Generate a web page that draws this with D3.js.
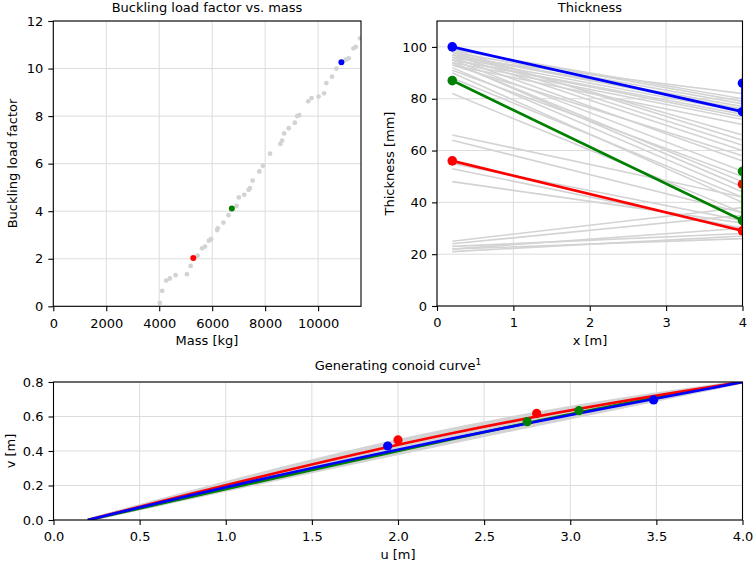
<!DOCTYPE html>
<html>
<head>
<meta charset="utf-8">
<script src="https://cdn.jsdelivr.net/npm/d3@7/dist/d3.min.js"></script>
<style>
  body { margin: 0; background: #fff; }
  svg { font-family: "DejaVu Sans", sans-serif; }
  .tick text { font-size: 13px; fill: #000; }
  .tick line { stroke: #000; stroke-width: 1.1; }
  .title, .label { font-size: 13px; fill: #000; }
</style>
</head>
<body>
<svg id="chart" width="754" height="565"></svg>
<script>
// Buckling load factor vs. mass (grey designs)
const massKg = [4023, 4111, 4263, 4402, 4617, 5047, 5186, 5452, 5617, 5731, 5870, 5958, 6186, 6211,
  6426, 6616, 6920, 7009, 7211, 7376, 7426, 7527, 7780, 7920, 8185, 8577, 8640, 8716, 8893, 9121,
  9209, 9286, 9627, 9753, 10019, 10222, 10311, 10525, 10690, 11044, 11157, 11335, 11423, 11588];
const bucklingFactor = [0.14, 0.65, 1.08, 1.17, 1.31, 1.35, 1.70, 2.13, 2.44, 2.51, 2.76, 2.82, 3.21, 3.28,
  3.52, 3.83, 4.22, 4.58, 4.69, 4.90, 4.97, 5.29, 5.67, 5.91, 6.42, 6.83, 6.97, 7.27, 7.49, 7.72,
  8.00, 8.04, 8.62, 8.76, 8.82, 8.96, 9.39, 9.66, 10.00, 10.37, 10.43, 10.85, 10.91, 11.27];

// highlighted designs: red, green, blue
const designColors = ["#ff0000", "#008000", "#0000ff"];
const designMass = [5287, 6742, 10880];
const designBuckling = [2.03, 4.11, 10.27];

// Thickness: values at x = 0.2, 4, 4
const thicknessX = [0.2, 4, 4];
const greyThickness = [
  [99, 80, 96], [98, 78, 90], [97, 76, 84], [96, 82, 88], [95, 74, 80], [94, 72, 78],
  [93, 70, 76], [98, 66, 72], [97, 60, 68], [96, 56, 62], [95, 52, 58], [94, 48, 55],
  [92, 44, 50], [90, 40, 46], [82, 36, 44], [66, 42, 48], [64, 36, 42], [55, 33, 38],
  [53, 30, 36], [48, 32, 35], [25, 38, 40], [24, 35, 38], [22, 30, 33], [21, 27, 30],
  [99, 79, 83], [97, 77, 81], [96, 75, 79], [95, 73, 77], [99, 64, 70], [98, 62, 66],
  [93, 58, 64], [91, 50, 54], [23, 28, 31], [22, 26, 29], [94, 46, 52], [88, 42, 47]
];
const designThickness = [[56, 29, 47], [87, 33, 52], [100, 75, 86]];

// Generating conoid curve: cubic Bezier control points between fixed ends
const curveStart = [0.2, 0.0];
const curveEnd = [4.0, 0.8];
const greyControls = [
  [[1.7, 0.42], [2.6, 0.62]], [[1.8, 0.44], [2.9, 0.64]], [[2.2, 0.48], [3.0, 0.64]],
  [[2.1, 0.46], [3.3, 0.68]], [[2.4, 0.50], [3.2, 0.66]], [[2.6, 0.54], [3.4, 0.69]],
  [[2.9, 0.60], [3.2, 0.65]], [[1.5, 0.31], [2.9, 0.58]], [[2.5, 0.50], [3.6, 0.71]],
  [[1.9, 0.41], [3.5, 0.69]], [[1.7, 0.40], [2.8, 0.61]], [[2.0, 0.43], [3.1, 0.65]],
  [[2.3, 0.47], [3.4, 0.68]], [[1.8, 0.38], [3.0, 0.61]], [[2.2, 0.44], [2.9, 0.60]],
  [[2.7, 0.55], [3.3, 0.67]], [[1.6, 0.36], [3.2, 0.64]], [[2.0, 0.40], [3.3, 0.66]],
  [[1.8, 0.42], [2.7, 0.61]], [[1.9, 0.45], [2.8, 0.63]], [[2.1, 0.45], [3.0, 0.63]]
];
const designControls = [
  [[2.0, 0.464], [2.805, 0.618]],
  [[2.75, 0.570], [3.05, 0.634]],
  [[1.94, 0.429], [3.484, 0.696]]
];

const massTicks = [0, 2000, 4000, 6000, 8000, 10000];
const bucklingTicks = [0, 2, 4, 6, 8, 10, 12];
const xTicks = [0, 1, 2, 3, 4];
const thicknessTicks = [0, 20, 40, 60, 80, 100];
const uTicks = [0, 0.5, 1, 1.5, 2, 2.5, 3, 3.5, 4];
const vTicks = [0, 0.2, 0.4, 0.6, 0.8];

const svg = d3.select("#chart");
const grey = "#d3d3d3";

function panel(id, left, right, top, bottom, xDomain, yDomain, xt, yt, xFmt, yFmt) {
  const x = d3.scaleLinear().domain(xDomain).range([left, right]);
  const y = d3.scaleLinear().domain(yDomain).range([bottom, top]);
  const g = svg.append("g");

  svg.append("clipPath").attr("id", id)
    .append("rect").attr("x", left).attr("y", top)
    .attr("width", right - left).attr("height", bottom - top);

  // grid
  g.selectAll(".gx").data(xt).enter().append("line")
    .attr("x1", d => x(d)).attr("x2", d => x(d)).attr("y1", top).attr("y2", bottom)
    .attr("stroke", "#dcdcdc").attr("stroke-width", 1);
  g.selectAll(".gy").data(yt).enter().append("line")
    .attr("x1", left).attr("x2", right).attr("y1", d => y(d)).attr("y2", d => y(d))
    .attr("stroke", "#dcdcdc").attr("stroke-width", 1);

  const ax = svg.append("g").attr("transform", `translate(0,${bottom})`)
    .call(d3.axisBottom(x).tickValues(xt).tickFormat(xFmt).tickSize(5).tickSizeOuter(0).tickPadding(7));
  const ay = svg.append("g").attr("transform", `translate(${left},0)`)
    .call(d3.axisLeft(y).tickValues(yt).tickFormat(yFmt).tickSize(5).tickSizeOuter(0).tickPadding(5));
  ax.select(".domain").remove();
  ay.select(".domain").remove();
  ax.attr("font-family", null).attr("font-size", null);
  ay.attr("font-family", null).attr("font-size", null);

  const plot = svg.append("g").attr("clip-path", `url(#${id})`);
  const frame = () => svg.append("rect")
    .attr("x", left).attr("y", top).attr("width", right - left).attr("height", bottom - top)
    .attr("fill", "none").attr("stroke", "#000").attr("stroke-width", 1.1);
  return { x, y, plot, frame };
}

// --- Buckling load factor vs. mass
const p1 = panel("c1", 53.3, 361, 21, 306.3, [0, 11620], [0, 12], massTicks, bucklingTicks,
  d3.format("d"), d3.format("d"));
p1.plot.selectAll(".pt").data(massKg).enter().append("circle")
  .attr("cx", d => p1.x(d)).attr("cy", (d, i) => p1.y(bucklingFactor[i]))
  .attr("r", 2.4).attr("fill", grey);
p1.plot.selectAll(".hp").data(designMass).enter().append("circle")
  .attr("cx", d => p1.x(d)).attr("cy", (d, i) => p1.y(designBuckling[i]))
  .attr("r", 3).attr("fill", (d, i) => designColors[i]);
p1.frame();

// --- Thickness
const p2 = panel("c2", 437, 742.5, 21, 306, [0, 4], [0, 110], xTicks, thicknessTicks,
  d3.format("d"), d3.format("d"));
const tLine = d3.line().x((d, i) => p2.x(thicknessX[i])).y(d => p2.y(d));
p2.plot.selectAll(".gl").data(greyThickness).enter().append("path")
  .attr("d", tLine).attr("fill", "none").attr("stroke", grey).attr("stroke-width", 1.6);
designThickness.forEach((t, k) => {
  p2.plot.append("path").attr("d", tLine(t)).attr("fill", "none")
    .attr("stroke", designColors[k]).attr("stroke-width", 2.7);
  p2.plot.selectAll(null).data(t).enter().append("circle")
    .attr("cx", (d, i) => p2.x(thicknessX[i])).attr("cy", d => p2.y(d))
    .attr("r", 4.8).attr("fill", designColors[k]);
});
p2.frame();

// --- Generating conoid curve
const p3 = panel("c3", 53.5, 742.5, 382, 520, [0, 4], [0, 0.8], uTicks, vTicks,
  d3.format(".1f"), d3.format(".1f"));
const bezier = c => {
  const p = d3.path();
  p.moveTo(p3.x(curveStart[0]), p3.y(curveStart[1]));
  p.bezierCurveTo(p3.x(c[0][0]), p3.y(c[0][1]), p3.x(c[1][0]), p3.y(c[1][1]),
    p3.x(curveEnd[0]), p3.y(curveEnd[1]));
  return p.toString();
};
p3.plot.selectAll(".gc").data(greyControls).enter().append("path")
  .attr("d", bezier).attr("fill", "none").attr("stroke", grey).attr("stroke-width", 3);
[1, 0, 2].forEach(k => {
  p3.plot.append("path").attr("d", bezier(designControls[k])).attr("fill", "none")
    .attr("stroke", designColors[k]).attr("stroke-width", 2.7);
});
designControls.forEach((c, k) => {
  p3.plot.selectAll(null).data(c).enter().append("circle")
    .attr("cx", d => p3.x(d[0])).attr("cy", d => p3.y(d[1]))
    .attr("r", 4.6).attr("fill", designColors[k]);
});
p3.frame();

// titles and labels
const text = (x, y, s, rot) => svg.append("text").attr("class", "label")
  .attr("x", x).attr("y", y).attr("text-anchor", "middle")
  .attr("transform", rot ? `rotate(-90,${x},${y})` : null).text(s);

text(207, 12, "Buckling load factor vs. mass");
text(590, 12, "Thickness");
const t3 = text(398, 370, "Generating conoid curve");
t3.append("tspan").attr("dy", -5).attr("font-size", 9).text("1");
text(207, 345, "Mass [kg]");
text(590, 345, "x [m]");
text(398, 559, "u [m]");
text(17, 163.5, "Buckling load factor", true);
text(394, 163.5, "Thickness [mm]", true);
text(15, 451, "v [m]", true);
</script>
</body>
</html>
